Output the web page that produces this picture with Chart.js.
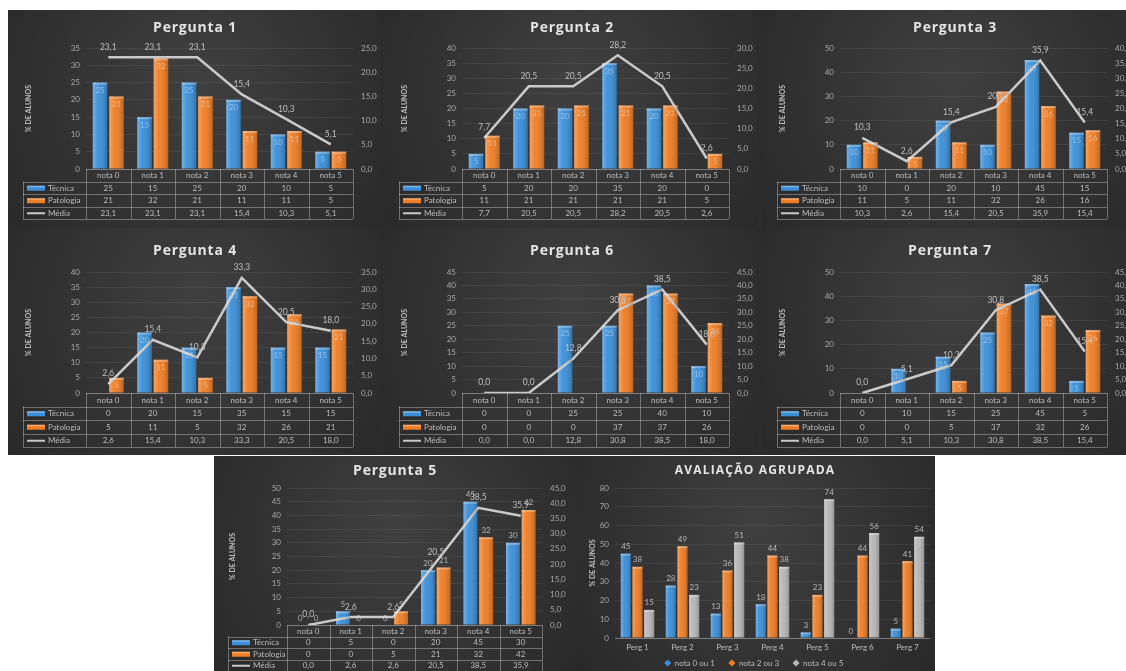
<!DOCTYPE html>
<html lang="pt">
<head>
<meta charset="utf-8">
<title>Avaliação por pergunta</title>
<script src="https://cdn.jsdelivr.net/npm/chart.js@4.4.1/dist/chart.umd.min.js"></script>
<style>
  html, body { margin: 0; padding: 0; background: #ffffff; }
  body { width: 1126px; height: 671px; position: relative; overflow: hidden; }
  .panel { position: absolute; overflow: hidden; background: #2c2c2c; }
  .panel canvas { position: absolute; top: 0; }
</style>
</head>
<body>
<div id="stage"></div>
<script>
// ---- Categories ----
const notas = ['nota 0', 'nota 1', 'nota 2', 'nota 3', 'nota 4', 'nota 5'];
const serieNomes = ['Técnica', 'Patologia', 'Média'];

// ---- Pergunta 1 ----
const p1Tecnica   = [25, 15, 25, 20, 10, 5];
const p1Patologia = [21, 32, 21, 11, 11, 5];
const p1Media     = [23.1, 23.1, 23.1, 15.4, 10.3, 5.1];

// ---- Pergunta 2 ----
const p2Tecnica   = [5, 20, 20, 35, 20, 0];
const p2Patologia = [11, 21, 21, 21, 21, 5];
const p2Media     = [7.7, 20.5, 20.5, 28.2, 20.5, 2.6];

// ---- Pergunta 3 ----
const p3Tecnica   = [10, 0, 20, 10, 45, 15];
const p3Patologia = [11, 5, 11, 32, 26, 16];
const p3Media     = [10.3, 2.6, 15.4, 20.5, 35.9, 15.4];

// ---- Pergunta 4 ----
const p4Tecnica   = [0, 20, 15, 35, 15, 15];
const p4Patologia = [5, 11, 5, 32, 26, 21];
const p4Media     = [2.6, 15.4, 10.3, 33.3, 20.5, 18.0];

// ---- Pergunta 6 ----
const p6Tecnica   = [0, 0, 25, 25, 40, 10];
const p6Patologia = [0, 0, 0, 37, 37, 26];
const p6Media     = [0.0, 0.0, 12.8, 30.8, 38.5, 18.0];

// ---- Pergunta 7 ----
const p7Tecnica   = [0, 10, 15, 25, 45, 5];
const p7Patologia = [0, 0, 5, 37, 32, 26];
const p7Media     = [0.0, 5.1, 10.3, 30.8, 38.5, 15.4];

// ---- Pergunta 5 ----
const p5Tecnica   = [0, 5, 0, 20, 45, 30];
const p5Patologia = [0, 0, 5, 21, 32, 42];
const p5Media     = [0.0, 2.6, 2.6, 20.5, 38.5, 35.9];

// ---- Avaliação agrupada ----
const perguntas   = ['Perg 1', 'Perg 2', 'Perg 3', 'Perg 4', 'Perg 5', 'Perg 6', 'Perg 7'];
const grupoNomes  = ['nota 0 ou 1', 'nota 2 ou 3', 'nota 4 ou 5'];
const grupo01     = [45, 28, 13, 18, 3, 0, 5];
const grupo23     = [38, 49, 36, 44, 23, 44, 41];
const grupo45     = [15, 23, 51, 38, 74, 56, 54];

// ---- Styling ----
const BLUE = '#3b8fd8';
const ORANGE = '#ee7d25';
const GRAY = '#b6b6b6';
const LINE = '#c9c9c9';
const TEXT = '#bdbdbd';
const GRID = 'rgba(255,255,255,0.07)';
const RULE = 'rgba(255,255,255,0.32)';
const FONT = 'Lato, "Open Sans", sans-serif';

const fmt1 = v => v.toFixed(1).replace('.', ',');

// Layout of the panel families (canvas-relative pixels)
const geoRow1 = { plotLeft: 78, plotRight: 345, plotTop: 38, plotBottom: 159, titleY: 18, yTitleX: 21, tableLeft: 15, rowH: 12.5 };
const geoRow2 = { plotLeft: 78, plotRight: 345, plotTop: 44, plotBottom: 165, titleY: 23, yTitleX: 21, tableLeft: 15, rowH: 13.5 };
const geoP5   = { plotLeft: 73, plotRight: 328, plotTop: 32, plotBottom: 169, titleY: 15, yTitleX: 19, tableLeft: 14, rowH: 11.5, labelsOutside: true };

const panels = [
  { wrap: [8, 10, 372, 218],   off: 0, W: 380, H: 218, geo: geoRow1, titleX: 187, title: 'Pergunta 1', tec: p1Tecnica, pat: p1Patologia, med: p1Media, yMax: 35, y1Max: 25 },
  { wrap: [380, 10, 378, 218], off: 4, W: 380, H: 218, geo: geoRow1, titleX: 188, title: 'Pergunta 2', tec: p2Tecnica, pat: p2Patologia, med: p2Media, yMax: 40, y1Max: 30 },
  { wrap: [758, 10, 368, 218], off: 4, W: 380, H: 218, geo: geoRow1, titleX: 193, title: 'Pergunta 3', tec: p3Tecnica, pat: p3Patologia, med: p3Media, yMax: 50, y1Max: 40 },
  { wrap: [8, 228, 372, 227],   off: 0, W: 380, H: 227, geo: geoRow2, titleX: 187, title: 'Pergunta 4', tec: p4Tecnica, pat: p4Patologia, med: p4Media, yMax: 40, y1Max: 35 },
  { wrap: [380, 228, 378, 227], off: 4, W: 380, H: 227, geo: geoRow2, titleX: 188, title: 'Pergunta 6', tec: p6Tecnica, pat: p6Patologia, med: p6Media, yMax: 45, y1Max: 45 },
  { wrap: [758, 228, 368, 227], off: 4, W: 380, H: 227, geo: geoRow2, titleX: 188, title: 'Pergunta 7', tec: p7Tecnica, pat: p7Patologia, med: p7Media, yMax: 50, y1Max: 45 },
  { wrap: [214, 456, 364, 215], off: 0, W: 364, H: 215, geo: geoP5,   titleX: 181, title: 'Pergunta 5', tec: p5Tecnica, pat: p5Patologia, med: p5Media, yMax: 50, y1Max: 45 }
];

const stage = document.getElementById('stage');

function makeCanvas(wrap, off, W, H) {
  const div = document.createElement('div');
  div.className = 'panel';
  div.style.left = wrap[0] + 'px';
  div.style.top = wrap[1] + 'px';
  div.style.width = wrap[2] + 'px';
  div.style.height = wrap[3] + 'px';
  const cv = document.createElement('canvas');
  cv.width = W; cv.height = H;
  cv.style.width = W + 'px'; cv.style.height = H + 'px';
  cv.style.left = off + 'px';
  div.appendChild(cv);
  stage.appendChild(div);
  return cv;
}

function paintBackground(chart) {
  const { ctx, width, height } = chart;
  ctx.save();
  const g = ctx.createRadialGradient(width * 0.5, height * 0.32, 10, width * 0.5, height * 0.4, width * 0.7);
  g.addColorStop(0, '#3f3f3f');
  g.addColorStop(1, '#262626');
  ctx.fillStyle = g;
  ctx.fillRect(0, 0, width, height);
  ctx.restore();
}

function shadeBars(chart) {
  const ctx = chart.ctx;
  chart.data.datasets.forEach((ds, i) => {
    const meta = chart.getDatasetMeta(i);
    if (meta.type !== 'bar') return;
    meta.data.forEach(el => {
      const p = el.getProps(['x', 'y', 'base', 'width'], true);
      const left = p.x - p.width / 2;
      const h = p.base - p.y;
      if (h <= 0.5) return;
      const g = ctx.createLinearGradient(left, 0, left + p.width, 0);
      g.addColorStop(0, 'rgba(255,255,255,0.30)');
      g.addColorStop(0.35, 'rgba(255,255,255,0.04)');
      g.addColorStop(1, 'rgba(0,0,0,0.20)');
      ctx.save();
      ctx.fillStyle = g;
      ctx.fillRect(left, p.y, p.width, h);
      ctx.fillStyle = 'rgba(255,255,255,0.30)';
      ctx.fillRect(left, p.y, p.width, Math.min(2, h));
      ctx.restore();
    });
  });
}

function drawTitle(ctx, text, x, y, font, spacing) {
  ctx.save();
  ctx.font = font;
  if ('letterSpacing' in ctx) ctx.letterSpacing = spacing;
  ctx.fillStyle = '#e4e4e4';
  ctx.textAlign = 'center';
  ctx.textBaseline = 'middle';
  ctx.fillText(text, x, y);
  ctx.restore();
}

function drawYTitle(ctx, x, y) {
  ctx.save();
  ctx.translate(x, y);
  ctx.rotate(-Math.PI / 2);
  ctx.font = 'bold 7px ' + FONT;
  ctx.fillStyle = TEXT;
  ctx.textAlign = 'center';
  ctx.textBaseline = 'middle';
  ctx.fillText('% DE ALUNOS', 0, 0);
  ctx.restore();
}

function panelPlugin(cfg) {
  const geo = cfg.geo;
  return {
    id: 'panelDecor',
    beforeDraw(chart) { paintBackground(chart); },
    afterDatasetsDraw(chart) {
      const ctx = chart.ctx;
      shadeBars(chart);
      ctx.save();
      ctx.textAlign = 'center';
      // bar value labels
      [0, 1].forEach(i => {
        const meta = chart.getDatasetMeta(i);
        const vals = chart.data.datasets[i].data;
        meta.data.forEach((el, j) => {
          const p = el.getProps(['x', 'y', 'base'], true);
          if (geo.labelsOutside) {
            ctx.font = '8px ' + FONT;
            ctx.fillStyle = 'rgba(220,220,220,0.75)';
            ctx.textBaseline = 'bottom';
            ctx.fillText(String(vals[j]), p.x, p.y - 3);
          } else if (vals[j] > 0) {
            ctx.font = '8px ' + FONT;
            ctx.fillStyle = 'rgba(255,255,255,0.40)';
            ctx.textBaseline = 'top';
            ctx.fillText(String(vals[j]), p.x, p.y + 4);
          }
        });
      });
      // average line labels
      const lm = chart.getDatasetMeta(2);
      const lv = chart.data.datasets[2].data;
      ctx.font = '8.5px ' + FONT;
      ctx.fillStyle = '#bfbfbf';
      ctx.textBaseline = 'bottom';
      lm.data.forEach((el, j) => {
        ctx.fillText(fmt1(lv[j]), el.x, el.y - 6);
      });
      ctx.restore();
    },
    afterDraw(chart) {
      const ctx = chart.ctx;
      const area = chart.chartArea;
      drawTitle(ctx, cfg.title, cfg.titleX, geo.titleY, 'bold 14px "Open Sans", sans-serif', '0.8px');
      drawYTitle(ctx, geo.yTitleX, (area.top + area.bottom) / 2);

      // data table under the plot
      const n = notas.length;
      const colW = (area.right - area.left) / n;
      const top = area.bottom;
      const rh = geo.rowH;
      const L = geo.tableLeft;
      ctx.save();
      ctx.strokeStyle = RULE;
      ctx.lineWidth = 1;
      ctx.beginPath();
      const hl = (x1, x2, y) => { ctx.moveTo(x1, Math.round(y) + 0.5); ctx.lineTo(x2, Math.round(y) + 0.5); };
      const vl = (x, y1, y2) => { ctx.moveTo(Math.round(x) + 0.5, y1); ctx.lineTo(Math.round(x) + 0.5, y2); };
      hl(area.left, area.right, top);
      for (let r = 1; r <= 4; r++) hl(L, area.right, top + r * rh);
      for (let k = 0; k <= n; k++) vl(area.left + k * colW, top, top + 4 * rh);
      vl(L, top + rh, top + 4 * rh);
      ctx.stroke();

      ctx.font = '8px ' + FONT;
      ctx.fillStyle = TEXT;
      ctx.textAlign = 'center';
      ctx.textBaseline = 'middle';
      notas.forEach((c, k) => ctx.fillText(c, area.left + (k + 0.5) * colW, top + rh / 2 + 0.5));

      const rows = [cfg.tec.map(String), cfg.pat.map(String), cfg.med.map(fmt1)];
      const swatch = [BLUE, ORANGE, LINE];
      rows.forEach((vals, r) => {
        const cy = top + (r + 1.5) * rh + 0.5;
        vals.forEach((v, k) => ctx.fillText(v, area.left + (k + 0.5) * colW, cy));
        // legend key
        if (r < 2) {
          ctx.fillStyle = swatch[r];
          ctx.fillRect(L + 4, cy - 2.5, 18, 5);
          ctx.fillStyle = 'rgba(255,255,255,0.35)';
          ctx.fillRect(L + 4, cy - 2.5, 18, 1.5);
        } else {
          ctx.fillStyle = swatch[r];
          ctx.fillRect(L + 4, cy - 1, 18, 2);
        }
        ctx.fillStyle = TEXT;
        ctx.textAlign = 'left';
        ctx.fillText(serieNomes[r], L + 25, cy);
        ctx.textAlign = 'center';
      });
      ctx.restore();
    }
  };
}

function buildPanel(cfg) {
  const cv = makeCanvas(cfg.wrap, cfg.off, cfg.W, cfg.H);
  const geo = cfg.geo;
  return new Chart(cv, {
    data: {
      labels: notas,
      datasets: [
        { type: 'bar', label: serieNomes[0], data: cfg.tec, backgroundColor: BLUE, yAxisID: 'y', order: 1,
          categoryPercentage: 0.74, barPercentage: 0.88 },
        { type: 'bar', label: serieNomes[1], data: cfg.pat, backgroundColor: ORANGE, yAxisID: 'y', order: 1,
          categoryPercentage: 0.74, barPercentage: 0.88 },
        { type: 'line', label: serieNomes[2], data: cfg.med, borderColor: LINE, borderWidth: 2.5,
          pointRadius: 0, tension: 0, yAxisID: 'y1', order: 0 }
      ]
    },
    options: {
      responsive: false,
      animation: false,
      devicePixelRatio: 1,
      layout: { padding: { left: 0, right: 0, top: geo.plotTop, bottom: cfg.H - geo.plotBottom } },
      plugins: { legend: { display: false }, tooltip: { enabled: false }, title: { display: false } },
      scales: {
        x: { display: false },
        y: {
          position: 'left', min: 0, max: cfg.yMax,
          ticks: { stepSize: 5, color: '#a8a8a8', font: { size: 8, family: FONT }, padding: 6 },
          grid: { color: GRID, drawTicks: false },
          border: { display: false },
          afterFit(scale) { scale.width = geo.plotLeft; }
        },
        y1: {
          position: 'right', min: 0, max: cfg.y1Max,
          ticks: { stepSize: 5, color: '#a8a8a8', font: { size: 8, family: FONT }, padding: 8,
                   callback: v => fmt1(v) },
          grid: { drawOnChartArea: false, drawTicks: false },
          border: { display: false },
          afterFit(scale) { scale.width = cfg.W - geo.plotRight; }
        }
      }
    },
    plugins: [panelPlugin(cfg)]
  });
}

panels.forEach(buildPanel);

// ---- Avaliação agrupada ----
(function () {
  const W = 357, H = 215;
  const geo = { plotLeft: 37, plotRight: 352, plotTop: 32, plotBottom: 182 };
  const cv = makeCanvas([578, 456, W, H], 0, W, H);
  const colors = [BLUE, ORANGE, GRAY];
  const decor = {
    id: 'groupDecor',
    beforeDraw(chart) { paintBackground(chart); },
    afterDatasetsDraw(chart) {
      const ctx = chart.ctx;
      shadeBars(chart);
      ctx.save();
      ctx.font = '8px ' + FONT;
      ctx.fillStyle = 'rgba(215,215,215,0.8)';
      ctx.textAlign = 'center';
      ctx.textBaseline = 'bottom';
      chart.data.datasets.forEach((ds, i) => {
        chart.getDatasetMeta(i).data.forEach((el, j) => {
          ctx.fillText(String(ds.data[j]), el.x, el.y - 3);
        });
      });
      ctx.restore();
    },
    afterDraw(chart) {
      const ctx = chart.ctx;
      const area = chart.chartArea;
      drawTitle(ctx, 'AVALIAÇÃO AGRUPADA', 177, 15, 'bold 12px "Open Sans", sans-serif', '1.2px');
      drawYTitle(ctx, 15, (area.top + area.bottom) / 2);
      ctx.save();
      ctx.strokeStyle = RULE;
      ctx.beginPath();
      ctx.moveTo(area.left, Math.round(area.bottom) + 0.5);
      ctx.lineTo(area.right, Math.round(area.bottom) + 0.5);
      ctx.stroke();
      const xs = chart.scales.x;
      ctx.font = '8px ' + FONT;
      ctx.fillStyle = TEXT;
      ctx.textAlign = 'center';
      ctx.textBaseline = 'middle';
      perguntas.forEach((p, k) => ctx.fillText(p, xs.getPixelForValue(k), 191));
      // legend
      const items = grupoNomes.map((t, i) => ({ t, c: colors[i], w: ctx.measureText(t).width + 12 }));
      const gap = 12;
      const total = items.reduce((s, it) => s + it.w, 0) + gap * (items.length - 1);
      let x = 177 - total / 2;
      const y = 207;
      items.forEach(it => {
        ctx.save();
        ctx.translate(x + 3, y);
        ctx.rotate(Math.PI / 4);
        ctx.fillStyle = it.c;
        ctx.fillRect(-2.5, -2.5, 5, 5);
        ctx.restore();
        ctx.fillStyle = TEXT;
        ctx.textAlign = 'left';
        ctx.fillText(it.t, x + 10, y);
        x += it.w + gap;
      });
      ctx.restore();
    }
  };
  new Chart(cv, {
    type: 'bar',
    data: {
      labels: perguntas,
      datasets: [
        { label: grupoNomes[0], data: grupo01, backgroundColor: colors[0], categoryPercentage: 0.78, barPercentage: 0.86 },
        { label: grupoNomes[1], data: grupo23, backgroundColor: colors[1], categoryPercentage: 0.78, barPercentage: 0.86 },
        { label: grupoNomes[2], data: grupo45, backgroundColor: colors[2], categoryPercentage: 0.78, barPercentage: 0.86 }
      ]
    },
    options: {
      responsive: false,
      animation: false,
      devicePixelRatio: 1,
      layout: { padding: { left: 0, right: W - geo.plotRight, top: geo.plotTop, bottom: H - geo.plotBottom } },
      plugins: { legend: { display: false }, tooltip: { enabled: false } },
      scales: {
        x: { display: false },
        y: {
          min: 0, max: 80,
          ticks: { stepSize: 10, color: '#a8a8a8', font: { size: 8, family: FONT }, padding: 6 },
          grid: { color: GRID, drawTicks: false },
          border: { display: false },
          afterFit(scale) { scale.width = geo.plotLeft; }
        }
      }
    },
    plugins: [decor]
  });
})();
</script>
</body>
</html>
